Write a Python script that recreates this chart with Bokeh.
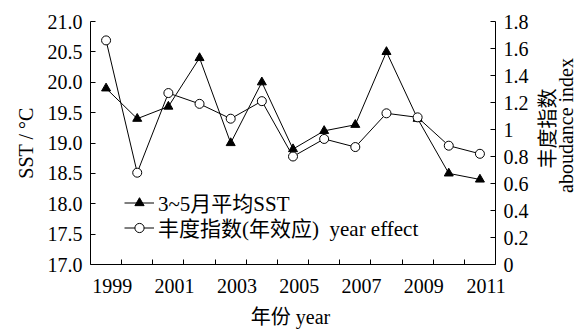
from bokeh.plotting import figure
from bokeh.layouts import row
from bokeh.models import (Range1d, LinearAxis, FixedTicker, CustomJSTickFormatter,
                          Legend, LegendItem, Label)
from bokeh.embed import file_html
from bokeh.resources import INLINE

years = [1999, 2000, 2001, 2002, 2003, 2004, 2005, 2006, 2007, 2008, 2009, 2010, 2011]
sst = [19.9, 19.4, 19.6, 20.4, 19.0, 20.0, 18.9, 19.2, 19.3, 20.5, 19.4, 18.5, 18.4]
abundance = [1.66, 0.68, 1.27, 1.19, 1.08, 1.21, 0.80, 0.93, 0.87, 1.12, 1.09, 0.88, 0.82]
year_labels = [1999, 2001, 2003, 2005, 2007, 2009, 2011]
sst_ticks = [17.0, 17.5, 18.0, 18.5, 19.0, 19.5, 20.0, 20.5, 21.0]
abund_ticks = [0, 0.2, 0.4, 0.6, 0.8, 1.0, 1.2, 1.4, 1.6, 1.8]

FONT = "Liberation Serif, Noto Sans CJK SC"
TICK = "20px"

p = figure(width=535, height=330, output_backend="svg", toolbar_location=None,
           x_range=Range1d(1998.5, 2011.5), y_range=Range1d(17, 21),
           min_border_left=90, min_border_right=40, min_border_top=21, min_border_bottom=63)
p.outline_line_color = None
p.xgrid.visible = False
p.ygrid.visible = False
p.background_fill_color = "white"
p.border_fill_color = "white"

p.extra_y_ranges = {"abund": Range1d(0, 1.8)}

xa = p.xaxis[0]
xa.ticker = FixedTicker(ticks=[y + 0.2 for y in year_labels],
                        minor_ticks=[y + 0.5 for y in years[:-1]])
xa.formatter = CustomJSTickFormatter(code="return Math.round(tick).toString()")
xa.major_tick_line_color = None
xa.minor_tick_in = 5
xa.minor_tick_out = 0
xa.minor_tick_line_color = "black"
xa.axis_line_color = "black"
xa.major_label_text_font = FONT
xa.major_label_text_font_size = TICK
xa.major_label_text_color = "black"
xa.major_label_standoff = 8
xa.axis_label = "年份  year"
xa.axis_label_text_font = FONT
xa.axis_label_text_font_size = "20px"
xa.axis_label_text_font_style = "normal"
xa.axis_label_text_color = "black"
xa.axis_label_standoff = 10

ya = p.yaxis[0]
ya.ticker = FixedTicker(ticks=sst_ticks)
ya.formatter = CustomJSTickFormatter(code="return tick.toFixed(1)")
ya.major_tick_in = 5
ya.major_tick_out = 0
ya.minor_tick_line_color = None
ya.axis_line_color = "black"
ya.major_tick_line_color = "black"
ya.major_label_text_font = FONT
ya.major_label_text_font_size = TICK
ya.major_label_text_color = "black"
ya.major_label_standoff = 8
ya.axis_label = "SST / °C"
ya.axis_label_text_font = FONT
ya.axis_label_text_font_size = "20px"
ya.axis_label_text_font_style = "normal"
ya.axis_label_text_color = "black"
ya.axis_label_standoff = 8

ra = LinearAxis(y_range_name="abund", ticker=FixedTicker(ticks=abund_ticks),
                formatter=CustomJSTickFormatter(code="return String(Math.round(tick*10)/10)"))
ra.major_tick_in = 5
ra.major_tick_out = 0
ra.minor_tick_line_color = None
ra.axis_line_color = "black"
ra.major_tick_line_color = "black"
ra.major_label_text_font = FONT
ra.major_label_text_font_size = TICK
ra.major_label_text_color = "black"
ra.major_label_standoff = 8
p.add_layout(ra, "right")

l1 = p.line(years, sst, line_color="black", line_width=1)
m1 = p.scatter(years, sst, marker="triangle", size=9, fill_color="black", line_color="black")
l2 = p.line(years, abundance, y_range_name="abund", line_color="black", line_width=1)
m2 = p.scatter(years, abundance, y_range_name="abund", marker="circle", size=9,
               fill_color="white", line_color="black", line_width=1)

legend_style = dict(padding=0, margin=0, spacing=0,
                    glyph_width=30, glyph_height=23, label_height=23, label_standoff=4,
                    border_line_color=None, background_fill_alpha=0,
                    label_text_font=FONT, label_text_font_size="21px", label_text_color="black")
leg1 = Legend(items=[LegendItem(label="3~5月平均SST", renderers=[l1, m1])],
              location=(34, 47), **legend_style)
leg2 = Legend(items=[LegendItem(label="丰度指数(年效应)  year effect", renderers=[l2, m2])],
              location=(34, 22), **legend_style)
p.add_layout(leg1)
p.add_layout(leg2)

# right-hand axis title, drawn in a narrow companion panel
q = figure(width=45, height=330, output_backend="svg", toolbar_location=None,
           x_range=Range1d(0, 1), y_range=Range1d(0, 1),
           x_axis_type=None, y_axis_type=None,
           min_border_left=0, min_border_right=0, min_border_top=0, min_border_bottom=0)
q.outline_line_color = None
q.xgrid.visible = False
q.ygrid.visible = False
q.border_fill_color = "white"
q.background_fill_color = "white"
q.add_layout(Label(x=12, y=136, x_units="screen", y_units="screen", text="丰度指数",
                   angle=1.5707963, text_align="center", text_baseline="middle",
                   text_font=FONT, text_font_size="20px", text_color="black"))
q.add_layout(Label(x=30, y=139, x_units="screen", y_units="screen", text="aboudance index",
                   angle=1.5707963, text_align="center", text_baseline="middle",
                   text_font=FONT, text_font_size="20px", text_color="black"))

layout = row(p, q, spacing=0)
open("out.html", "w").write(file_html(layout, INLINE))
